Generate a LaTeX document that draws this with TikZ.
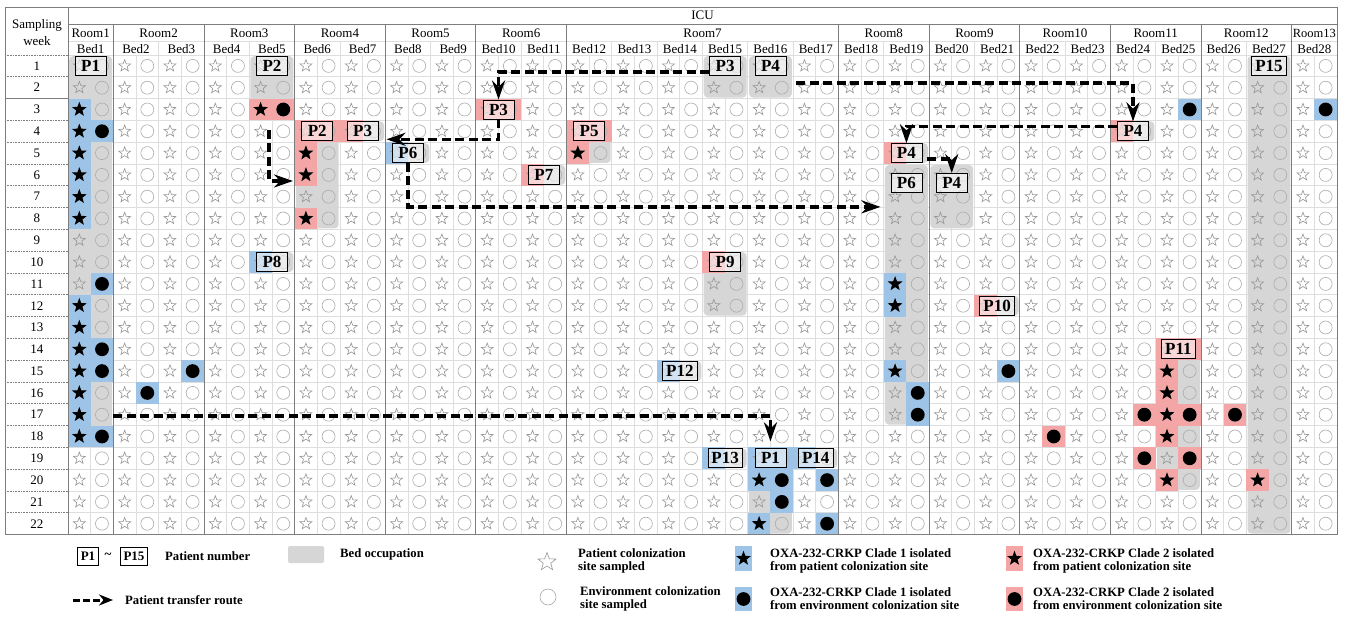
\documentclass[tikz,border=0pt]{standalone}
\usepackage{fontspec}
\setmainfont{Liberation Serif}
\usetikzlibrary{shapes.geometric,arrows.meta}
\definecolor{occgray}{RGB}{214,214,214}
\definecolor{cblue}{RGB}{157,195,230}
\definecolor{cpink}{RGB}{244,166,166}
\definecolor{symgray}{RGB}{150,150,150}
\definecolor{gridgray}{RGB}{222,222,222}
\definecolor{bordergray}{RGB}{125,125,125}
\newcommand\myfs[1]{\fontsize{#1}{#1}\selectfont}
\newcommand\ccell[4]{\fill[#4] ({68+(#1-1)*45.32+#2*22.66},{55+(#3-1)*21.8}) rectangle ++(22.66,21.8);}
\newcommand\occu[3]{\fill[occgray, rounded corners=4pt] ({68+(#1-1)*45.32+1.2},{55+(#2-1)*21.8+1}) rectangle ({68+#1*45.32-1.2},{55+#3*21.8-1});}
\newcommand\pbx[5]{\node[pbox] (#1) at ({68+(#2-0.5)*45.32},{55+(#3-0.5)*21.8+#4}) {#5};}
\begin{document}
\begin{tikzpicture}[x=1pt,y=-1pt,
  gstar/.style={star, star points=5, star point ratio=2.4, draw=symgray, line width=0.6pt, minimum size=12.5pt, inner sep=0pt},
  gcirc/.style={circle, draw=symgray!80, line width=0.6pt, minimum size=13pt, inner sep=0pt},
  bstar/.style={star, star points=5, star point ratio=2.4, fill=black, minimum size=15.5pt, inner sep=0pt},
  bcirc/.style={circle, fill=black, minimum size=13.8pt, inner sep=0pt},
  pbox/.style={draw=black, line width=0.8pt, fill=white, fill opacity=0.55, text opacity=1, font=\bfseries\myfs{17}, inner xsep=3.5pt, inner ysep=0pt, minimum width=31pt, minimum height=19pt},
  lbox/.style={draw=black, line width=0.8pt, fill=white, font=\bfseries\myfs{13}, inner xsep=3pt, inner ysep=0pt, minimum height=18pt},
  hdr/.style={font=\myfs{13}, inner sep=0pt},
  leg/.style={font=\bfseries\myfs{12.7}, inner sep=0pt, anchor=west, align=left},
  route/.style={line width=3.4pt, dash pattern=on 9pt off 4.5pt, -{Stealth[length=19pt,width=13pt]}}
]
\useasboundingbox (0,0) rectangle (1345,617);
\fill[white] (0,0) rectangle (1345,617);
% grid lines
\foreach \r in {0,...,21} \draw[gridgray, line width=0.8pt] (68,{55+\r*21.8}) -- (1337,{55+\r*21.8});
\foreach \k in {1,...,55} \draw[gridgray, line width=0.8pt] ({68+\k*22.66},55) -- ({68+\k*22.66},534);
\foreach \k in {1,...,27} \draw[gridgray, line width=0.8pt] ({68+\k*45.32},41) -- ({68+\k*45.32},55);
\draw[gridgray, line width=0.8pt] (68,41) -- (1337,41);
% occupation
\occu{1}{1}{18} \occu{5}{1}{3} \occu{5}{10}{10} \occu{6}{4}{8} \occu{7}{4}{4}
\occu{8}{5}{5} \occu{10}{3}{3} \occu{11}{6}{6} \occu{12}{4}{5} \occu{14}{15}{15}
\occu{15}{1}{2} \occu{15}{10}{12} \occu{15}{19}{19} \occu{16}{1}{2} \occu{16}{19}{22}
\occu{17}{19}{19} \occu{19}{5}{5} \occu{19}{6}{17} \occu{20}{6}{8} \occu{21}{12}{12}
\occu{24}{4}{4} \occu{25}{14}{20} \occu{27}{1}{22}
% coloured cells
\foreach \b/\r in {1/3,1/4,1/5,1/6,1/7,1/8,1/12,1/13,1/14,1/15,1/16,1/17,1/18,19/11,19/12,19/15,16/20,16/22} {\ccell{\b}{0}{\r}{cblue}}
\foreach \b/\r in {1/4,1/11,1/14,1/15,1/18,2/16,3/15,16/20,16/21,17/20,17/22,19/16,19/17,21/15,25/3,28/3} {\ccell{\b}{1}{\r}{cblue}}
\foreach \b/\r in {5/3,6/5,6/6,6/8,12/5,25/15,25/16,25/17,25/18,25/20,27/20} {\ccell{\b}{0}{\r}{cpink}}
\foreach \b/\r in {5/3,22/18,24/17,24/19,25/17,25/19,26/17} {\ccell{\b}{1}{\r}{cpink}}
\foreach \b/\s/\r in {5/0/10,8/0/5,14/0/15,15/0/19,17/0/19,16/0/19,16/1/19} {\ccell{\b}{\s}{\r}{cblue}}
\foreach \b/\s/\r in {6/0/4,6/1/4,7/0/4,10/0/3,10/1/3,11/0/6,12/0/4,12/1/4,15/0/10,19/0/5,21/0/12,24/0/4,25/0/14,25/1/14} {\ccell{\b}{\s}{\r}{cpink}}
% borders
\draw[bordergray, line width=0.9pt] (5,7) rectangle (1337,534);
\draw[bordergray, line width=0.9pt] (68,7) -- (68,534);
\draw[bordergray, line width=0.9pt] (68,24) -- (1337,24);
\foreach \k in {1,3,5,7,9,11,17,19,21,23,25,27} \draw[bordergray, line width=0.9pt] ({68+\k*45.32},24) -- ({68+\k*45.32},534);
% first column
\foreach \r in {0,...,21} \draw[bordergray, line width=0.6pt, densely dotted] (5,{55+\r*21.8}) -- (68,{55+\r*21.8});
\draw[bordergray, line width=0.8pt] (5,{55+2*21.8}) -- (68,{55+2*21.8});
\node[hdr] (samp) at (37,25) {Sampling};
\node[hdr] (week) at (37,41) {week};
\foreach \r in {1,...,22} \node[hdr] (w\r) at (37,{55+(\r-0.5)*21.8}) {\r};
% headers
\node[hdr] (icu) at (702.5,15.5) {ICU};
\foreach \n/\xc in {1/90.66,2/158.64,3/249.28,4/339.92,5/430.56,6/521.2,7/702.48,8/883.76,9/974.4,10/1065.04,11/1155.68,12/1246.32}
  \node[hdr] (room\n) at (\xc,33) {Room\n};
\node[hdr, font=\myfs{12.5}] (room13) at (1314.3,33) {Room13};
\foreach \b in {1,...,28} \node[hdr] (bed\b) at ({68+(\b-0.5)*45.32},49) {Bed\b};
% default symbols
\foreach \r in {1,...,22} {
  \foreach \b in {1,...,28} {
    \node[gstar] (st-\b-\r) at ({68+(\b-1)*45.32+11.33},{55+(\r-0.5)*21.8}) {};
    \node[gcirc] (ci-\b-\r) at ({68+(\b-1)*45.32+33.99},{55+(\r-0.5)*21.8}) {};
  }
}
% black symbols
\foreach \b/\r in {1/3,1/4,1/5,1/6,1/7,1/8,1/12,1/13,1/14,1/15,1/16,1/17,1/18,19/11,19/12,19/15,16/20,16/22,5/3,6/5,6/6,6/8,12/5,25/15,25/16,25/17,25/18,25/20,27/20}
  \node[bstar] (bs-\b-\r) at ({68+(\b-1)*45.32+11.33},{55+(\r-0.5)*21.8}) {};
\foreach \b/\r in {1/4,1/11,1/14,1/15,1/18,2/16,3/15,16/20,16/21,17/20,17/22,19/16,19/17,21/15,25/3,28/3,5/3,22/18,24/17,24/19,25/17,25/19,26/17}
  \node[bcirc] (bc-\b-\r) at ({68+(\b-1)*45.32+33.99},{55+(\r-0.5)*21.8}) {};
% patient boxes
\pbx{p1a}{1}{1}{0}{P1}
\pbx{p2a}{5}{1}{0}{P2}
\pbx{p3a}{15}{1}{0}{P3}
\pbx{p4a}{16}{1}{0}{P4}
\pbx{p15}{27}{1}{0}{P15}
\pbx{p3b}{10}{3}{0}{P3}
\pbx{p2b}{6}{4}{0}{P2}
\pbx{p3c}{7}{4}{0}{P3}
\pbx{p5}{12}{4}{0}{P5}
\pbx{p4b}{24}{4}{0}{P4}
\pbx{p6a}{8}{5}{0}{P6}
\pbx{p4c}{19}{5}{0}{P4}
\pbx{p7}{11}{6}{0}{P7}
\pbx{p6b}{19}{6}{8}{P6}
\pbx{p4d}{20}{6}{8}{P4}
\pbx{p8}{5}{10}{0}{P8}
\pbx{p9}{15}{10}{0}{P9}
\pbx{p10}{21}{12}{0}{P10}
\pbx{p11}{25}{14}{0}{P11}
\pbx{p12}{14}{15}{0}{P12}
\pbx{p13}{15}{19}{0}{P13}
\pbx{p1b}{16}{19}{0}{P1}
\pbx{p14}{17}{19}{0}{P14}
% transfer routes
\coordinate (p2s) at (269,130);
\coordinate (p2e) at (293,181);
\coordinate (p1s) at (113.3,415.9);
\draw[route] ([yshift=-6pt]p3a.west) -| (p3b.north);
\draw[route] (p3b.south) |- ([xshift=8pt,yshift=-8pt]p3c.east);
\draw[route] (p2s) |- (p2e);
\draw[route] (p6a.south) |- ([xshift=-10pt,yshift=-24pt]p6b.west);
\draw[route] ([xshift=10pt,yshift=-17pt]p4a.east) -| (p4b.north);
\draw[route] ([yshift=5pt]p4b.west) -| (p4c.north);
\draw[route] ([xshift=5pt,yshift=-6pt]p4c.east) -| (p4d.north);
\draw[route] (p1s) -| ([yshift=7pt]p1b.north);
% legend
\node[lbox] (lp1) at (88,556) {P1};
\node[font=\bfseries\myfs{13}, inner sep=0pt] (ltil) at (108,556) {\textasciitilde};
\node[lbox] (lp15) at (134,556) {P15};
\node[leg] (lpn) at (165,556) {Patient number};
\fill[occgray, rounded corners=2pt] (288,546) rectangle (324,563);
\node[leg] (lbo) at (340,554) {Bed occupation};
\node[gstar, minimum size=19pt] (lst) at (547,562) {};
\node[leg] (lpc) at (578,561) {Patient colonization\\site sampled};
\fill[cblue] (735,546) rectangle (752,571);
\node[bstar] (lbs) at (743.5,558.5) {};
\node[leg] (lc1p) at (770,561) {OXA-232-CRKP Clade 1 isolated\\from patient colonization site};
\fill[cpink] (1006,546) rectangle (1023,571);
\node[bstar] (lps) at (1014.5,558.5) {};
\node[leg] (lc2p) at (1033,561) {OXA-232-CRKP Clade 2 isolated\\from patient colonization site};
\coordinate (la1) at (73,600);
\coordinate (la2) at (113,600);
\draw[route, line width=3pt, dash pattern=on 7pt off 3pt, -{Stealth[length=14pt,width=11pt]}] (la1) -- (la2);
\node[leg] (ltr) at (125,600) {Patient transfer route};
\node[gcirc, minimum size=16pt] (lci) at (548,597) {};
\node[leg] (lec) at (580,599) {Environment colonization\\site sampled};
\fill[cblue] (735,587) rectangle (752,611);
\node[bcirc] (lbc) at (743.5,599) {};
\node[leg] (lc1e) at (770,599) {OXA-232-CRKP Clade 1 isolated\\from environment colonization site};
\fill[cpink] (1006,587) rectangle (1023,611);
\node[bcirc] (lpc2) at (1014.5,599) {};
\node[leg] (lc2e) at (1033,599) {OXA-232-CRKP Clade 2 isolated\\from environment colonization site};
\end{tikzpicture}
\end{document}
